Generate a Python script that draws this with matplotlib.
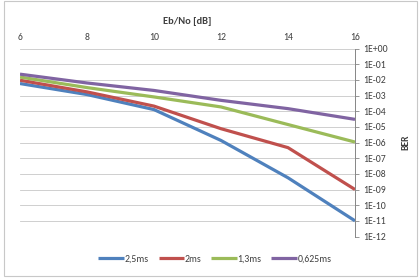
import matplotlib
matplotlib.use("Agg")
import matplotlib.pyplot as plt
from matplotlib.patches import Rectangle

ebno = [6, 8, 10, 12, 14, 16]
series_names = ["2,5ms", "2ms", "1,3ms", "0,625ms"]
ber_25 = [5.8e-3, 1.15e-3, 1.26e-4, 1.35e-6, 5.6e-9, 1e-11]
ber_2 = [9.4e-3, 1.7e-3, 2.1e-4, 7.6e-6, 4.7e-7, 1e-9]
ber_13 = [1.5e-2, 3.2e-3, 8.1e-4, 1.86e-4, 1.4e-5, 1.07e-6]
ber_0625 = [2.3e-2, 6.3e-3, 2.1e-3, 4.9e-4, 1.45e-4, 3.0e-5]
colors = ["#4F81BD", "#C0504D", "#9BBB59", "#8064A2"]
ytick_vals = [10.0 ** (-k) for k in range(0, 13)]
ytick_labels = ["1E+00"] + ["1E-%02d" % k for k in range(1, 13)]
xticks = [6, 8, 10, 12, 14, 16]

plt.rcParams['font.family'] = ['Carlito', 'Liberation Sans', 'DejaVu Sans']

fig = plt.figure(figsize=(4.2, 2.8), dpi=100)
fig.patches.append(Rectangle((4 / 420, 4 / 280), 413 / 420, 275 / 280, transform=fig.transFigure,
                             fill=False, edgecolor="#c8c8c8", linewidth=0.8))
ax = fig.add_axes([20 / 420, 1 - 236.5 / 280, 335 / 420, 188 / 280])

for vals, name, c in zip([ber_25, ber_2, ber_13, ber_0625], series_names, colors):
    ax.plot(ebno, vals, color=c, linewidth=2.3, label=name, solid_capstyle="butt")

ax.set_yscale("log")
ax.set_ylim(1e-12, 1)
ax.set_xlim(6, 16)
ax.yaxis.tick_right()
ax.yaxis.set_label_position("right")
ax.set_yticks(ytick_vals)
ax.set_yticklabels(ytick_labels)
ax.yaxis.set_minor_locator(matplotlib.ticker.NullLocator())
ax.xaxis.tick_top()
ax.xaxis.set_label_position("top")
ax.set_xticks(xticks)
ax.set_xticklabels([str(x) for x in xticks])
ax.tick_params(axis="x", length=0, labelsize=7, pad=5, colors="#404040")
ax.tick_params(axis="y", length=3, width=0.6, color="#868686", labelsize=7, pad=3, labelcolor="#404040")
ax.grid(axis="y", color="#c8c8c8", linewidth=0.6)
ax.grid(axis="x", visible=False)
for s in ["left", "top", "bottom"]:
    ax.spines[s].set_visible(False)
ax.spines["right"].set_color("#868686")
ax.spines["right"].set_linewidth(0.7)
ax.set_xlabel("Eb/No [dB]", fontsize=7.5, fontweight="bold", labelpad=6, color="#404040")
ax.set_ylabel("BER", fontsize=7, fontweight="bold", labelpad=10, color="#404040")

fig.legend(loc="center", bbox_to_anchor=(215 / 420, 1 - 259 / 280), ncol=4, frameon=False,
           fontsize=7, handlelength=2.6, handletextpad=0.1, columnspacing=1.0, labelcolor="#404040")

fig.savefig("out.png", dpi=100)
